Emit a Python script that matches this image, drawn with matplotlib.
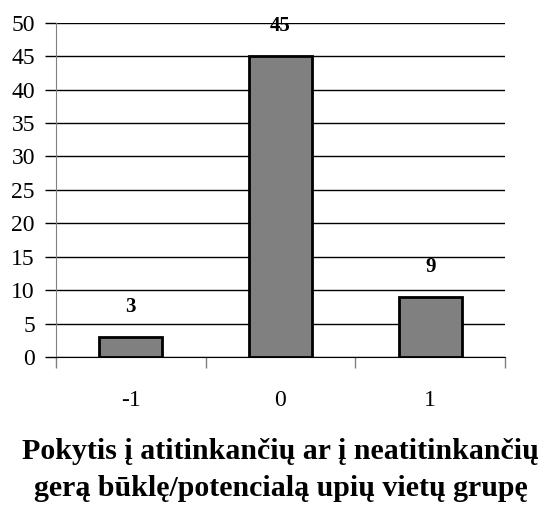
import matplotlib.pyplot as plt

categories = ["-1", "0", "1"]
values = [3, 45, 9]

plt.rcParams['font.family'] = ['Liberation Serif', 'DejaVu Serif']

fig = plt.figure(figsize=(5.52, 5.07), dpi=100)
ax = fig.add_axes([0.101, 0.296, 0.814, 0.659])

x = list(range(len(categories)))
ax.bar(x, values, width=0.42, color='#808080', edgecolor='black', linewidth=2, zorder=3)
for xi, v in zip(x, values):
    ax.text(xi, v + 3, str(v), ha='center', va='bottom', fontsize=15, fontweight='bold')

ax.set_xlim(-0.5, len(categories) - 0.5)
ax.set_ylim(0, 50)
ax.set_yticks(range(0, 51, 5))
ax.yaxis.grid(True, color='black', linewidth=1, zorder=0)
ax.tick_params(axis='y', labelsize=17, length=8, width=1, direction='out', pad=7)

ax.set_xticks([i - 0.5 for i in range(len(categories) + 1)])
ax.set_xticklabels([])
ax.set_xticks(x, minor=True)
ax.set_xticklabels(categories, minor=True)
ax.tick_params(axis='x', which='major', length=8, width=1, direction='out', color='#808080')
ax.tick_params(axis='x', which='minor', length=0, labelsize=17, pad=24)

for s in ['top', 'right']:
    ax.spines[s].set_visible(False)
ax.spines['left'].set_color('#808080')
ax.spines['bottom'].set_color('black')

ax.set_xlabel("Pokytis į atitinkančių ar į neatitinkančių\ngerą būklę/potencialą upių vietų grupę",
              fontsize=21.5, fontweight='bold', labelpad=19, linespacing=1.5)

fig.savefig("out.png", dpi=100)
